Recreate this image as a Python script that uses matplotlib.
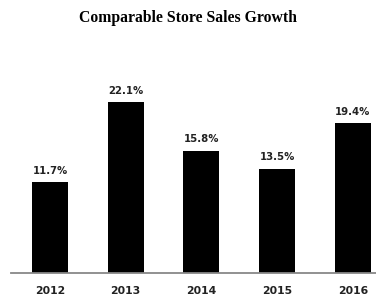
import matplotlib.pyplot as plt

years = ['2012', '2013', '2014', '2015', '2016']
growth = [11.7, 22.1, 15.8, 13.5, 19.4]
labels = ['11.7%', '22.1%', '15.8%', '13.5%', '19.4%']

fig = plt.figure(figsize=(3.76, 2.95), dpi=100)
ax = fig.add_axes([11 / 376, 22 / 295, 365 / 376, 193.5 / 295])

pos = list(range(len(years)))
ax.bar(pos, growth, width=0.475, color='black')

for x, v, t in zip(pos, growth, labels):
    ax.annotate(t, (x, v), xytext=(0, 4.5), textcoords='offset points',
                ha='center', va='bottom', fontsize=7.3, fontweight='bold',
                family='DejaVu Sans', color='#222222')

ax.set_xlim(-0.515, 4.307)
ax.set_ylim(0, 25)
ax.set_xticks(pos)
ax.set_xticklabels(years, fontsize=7.8, fontweight='bold', family='DejaVu Sans', color='#222222')
ax.tick_params(axis='x', length=0, pad=9)
ax.set_yticks([])
for s in ['top', 'left', 'right']:
    ax.spines[s].set_visible(False)
ax.spines['bottom'].set_color('#888888')
ax.spines['bottom'].set_linewidth(1.3)

fig.text(0.5, 1 - 18 / 295, 'Comparable Store Sales Growth', ha='center', va='center',
         fontsize=11.3, fontweight='bold', family='Liberation Serif')

fig.savefig('out.png', dpi=100)
